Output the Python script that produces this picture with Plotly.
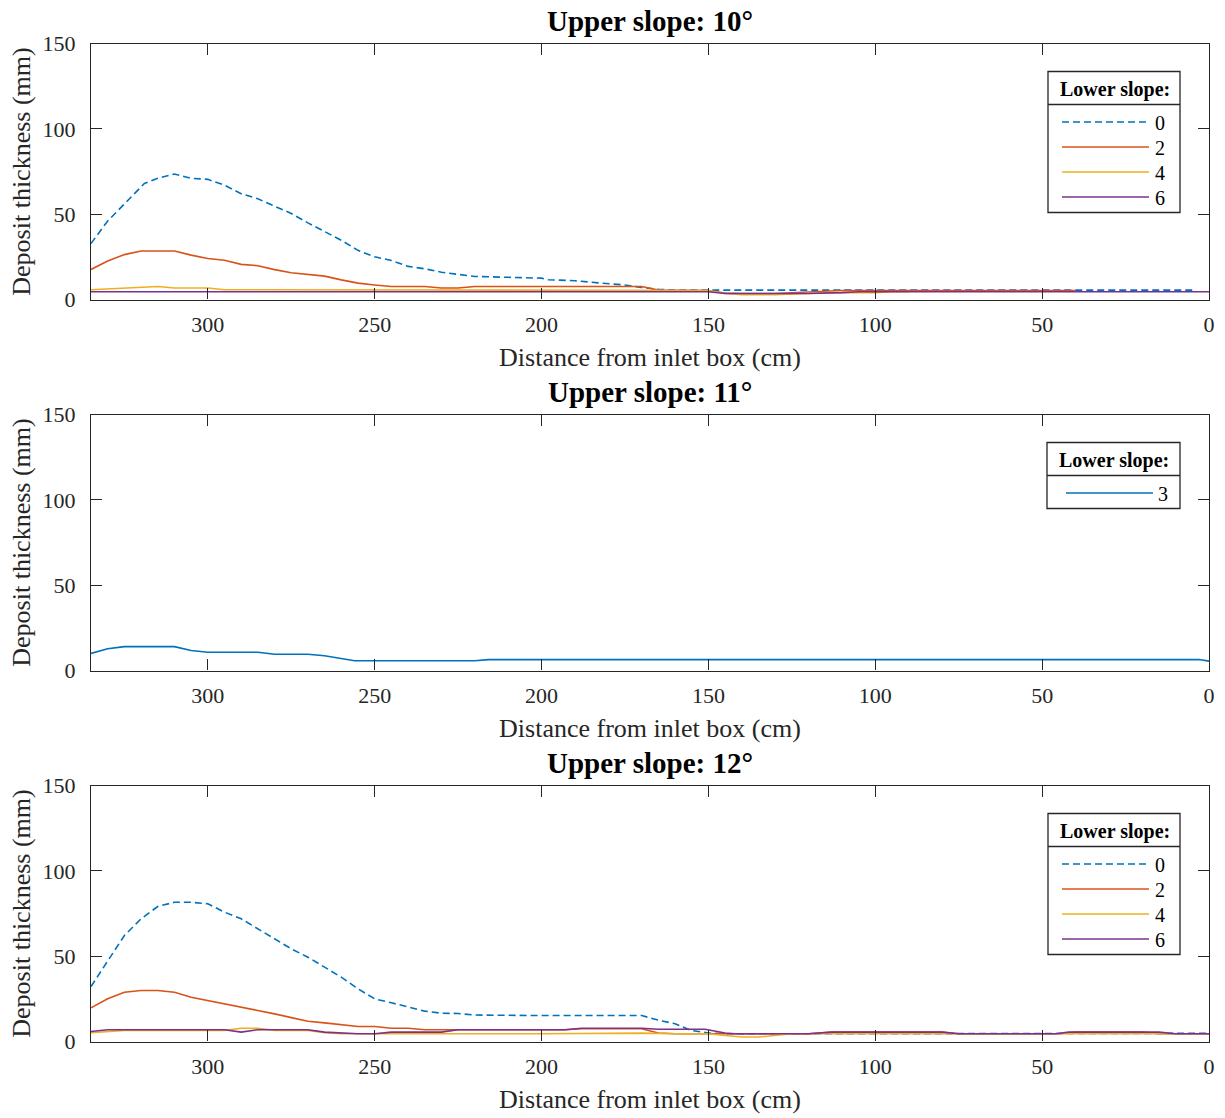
import plotly.graph_objects as go

# ---------------- data ----------------
panel_titles = ["Upper slope: 10°", "Upper slope: 11°", "Upper slope: 12°"]
x_title = "Distance from inlet box (cm)"
y_title = "Deposit thickness (mm)"
legend_title = "Lower slope:"
x_ticks = [0, 50, 100, 150, 200, 250, 300]
y_ticks = [0, 50, 100, 150]

# Upper slope 10
u10_ls0_x = [335, 330, 325, 322, 319, 315, 310, 305, 300, 295, 290, 285, 280, 275, 270, 265, 260, 255, 250,
             245, 240, 235, 230, 225, 220, 210, 200, 198, 190, 182, 175, 170, 165, 160, 150, 100, 50, 5]
u10_ls0_y = [32.8, 46, 56, 62, 68, 71, 73.5, 71, 70.4, 67, 62, 59, 54.7, 50.4, 44.9, 39.6, 34.7, 28.8, 25,
             22.9, 19.4, 18, 16, 14.7, 13.5, 13, 12.5, 11.6, 11, 9.6, 8.5, 7, 6, 5.5, 5.5, 5.5, 5.5, 5.5]
u10_ls2_x = [335, 330, 325, 320, 315, 310, 305, 300, 295, 290, 285, 280, 275, 270, 265, 260, 255, 250, 245,
             240, 235, 230, 225, 220, 210, 200, 190, 180, 170, 165, 160, 150, 145, 140, 130, 125, 120, 110,
             100, 90, 70, 40]
u10_ls2_y = [17.6, 22.5, 26.3, 28.4, 28.4, 28.4, 26, 24, 23, 20.6, 19.8, 17.5, 15.7, 14.8, 13.7, 11.5, 9.6, 8.5,
             7.6, 7.6, 7.6, 6.7, 6.7, 7.6, 7.6, 7.6, 7.6, 7.6, 7.6, 5.5, 5.3, 5.3, 3.8, 3.5, 3.5, 4, 4.5, 5.3,
             5.3, 5.3, 5.3, 5.3]
u10_ls4_x = [335, 325, 315, 310, 300, 295, 250, 200, 160, 150, 145, 140, 130, 125, 115, 100, 95, 90]
u10_ls4_y = [5.7, 6.7, 7.6, 6.7, 6.7, 5.7, 5.7, 5.7, 5.5, 5.3, 3.5, 2.8, 2.8, 3.3, 4, 4, 4.5, 4.5]
u10_ls6_x = [335, 300, 250, 200, 150, 145, 140, 120, 110, 105, 50, 0]
u10_ls6_y = [4.5, 4.5, 4.5, 4.5, 4.5, 3.5, 3.5, 3.5, 4, 4.5, 4.5, 4.5]

# Upper slope 11
u11_ls3_x = [335, 330, 325, 320, 315, 310, 305, 300, 295, 290, 285, 280, 275, 270, 265, 260, 256, 250, 240,
             230, 220, 216, 210, 200, 150, 100, 50, 3, 0]
u11_ls3_y = [10, 12.7, 14, 14, 14, 14, 11.7, 10.7, 10.7, 10.7, 10.7, 9.5, 9.5, 9.5, 8.6, 6.8, 5.7, 5.7, 5.7,
             5.7, 5.7, 6.4, 6.4, 6.4, 6.4, 6.4, 6.4, 6.4, 5.5]

# Upper slope 12
u12_ls0_x = [335, 330, 325, 320, 315, 310, 305, 300, 295, 290, 285, 280, 275, 270, 265, 260, 255, 250, 245,
             240, 235, 230, 225, 220, 210, 200, 190, 180, 170, 165, 160, 155, 150, 145, 140, 100, 50, 0]
u12_ls0_y = [32.2, 47.5, 62.1, 71.9, 79.1, 81.6, 81.6, 80.7, 75.8, 71.9, 66, 60.2, 54.3, 49.4, 43.5, 37.7,
             30.9, 25, 22.7, 20.1, 17.8, 16.6, 16.4, 15.5, 15.2, 15.2, 15.2, 15.2, 15.2, 12.5, 10.4, 6.4, 5,
             4.5, 4.5, 4.8, 4.8, 4.8]
u12_ls2_x = [335, 330, 325, 320, 315, 310, 305, 300, 295, 290, 285, 280, 275, 270, 265, 260, 255, 250, 245,
             240, 235, 220, 200, 193, 188, 170, 165, 160, 150, 140, 120, 113, 80, 75, 45, 40, 20, 15, 0]
u12_ls2_y = [19.7, 25, 28.9, 29.9, 29.9, 28.9, 25.9, 24, 22, 20.1, 18, 16.2, 14, 11.9, 10.9, 9.9, 8.8, 8.8,
             7.8, 7.8, 6.9, 6.9, 6.9, 6.9, 7.5, 7.5, 5, 4.5, 4.5, 4.5, 4.5, 5.5, 5.5, 4.5, 4.5, 5.5, 5.5, 4.5,
             4.5]
u12_ls4_x = [335, 325, 300, 295, 290, 285, 280, 270, 265, 260, 200, 170, 160, 150, 145, 140, 135, 130, 125,
             100, 50, 0]
u12_ls4_y = [5.1, 6.5, 6.5, 6.5, 7.8, 7.8, 6.5, 6.5, 5.1, 4.5, 4.5, 4.9, 4.5, 4.5, 3.5, 2.6, 2.6, 3.5, 4.5,
             4.5, 4.5, 4.5]
u12_ls6_x = [335, 330, 295, 290, 285, 270, 265, 260, 255, 250, 245, 230, 225, 193, 188, 170, 165, 151, 145,
             142, 120, 113, 80, 75, 46, 42, 15, 10, 0]
u12_ls6_y = [5.9, 6.9, 6.9, 5.5, 6.9, 6.9, 5.5, 5, 4.5, 4.5, 5.5, 5.5, 6.9, 6.9, 7.8, 7.8, 7.2, 7.2, 5, 4.5,
             4.5, 5.5, 5.5, 4.5, 4.5, 5.5, 5.5, 4.5, 4.5]

# ---------------- styles ----------------
COL = {"0": "#0072BD", "2": "#D95319", "4": "#EDB120", "6": "#7E2F8E", "3": "#0072BD"}
DASH = {"0": "7px,4px", "2": "solid", "4": "solid", "6": "solid", "3": "solid"}
AX = "#262626"
SERIF = "Liberation Serif, Times New Roman, serif"
W, H = 1225, 1118

panels = [
    [("0", u10_ls0_x, u10_ls0_y), ("2", u10_ls2_x, u10_ls2_y), ("4", u10_ls4_x, u10_ls4_y), ("6", u10_ls6_x, u10_ls6_y)],
    [("3", u11_ls3_x, u11_ls3_y)],
    [("0", u12_ls0_x, u12_ls0_y), ("2", u12_ls2_x, u12_ls2_y), ("4", u12_ls4_x, u12_ls4_y), ("6", u12_ls6_x, u12_ls6_y)],
]

# pixel layout
plot_left, plot_right = 91, 1209
panel_tops = [43.5, 414.5, 785.5]
panel_h = 256


def px(x):
    return x / W


def py(y):
    return 1 - y / H


fig = go.Figure()
layout = dict(
    width=W, height=H, margin=dict(l=0, r=0, t=0, b=0, autoexpand=False),
    paper_bgcolor="white", plot_bgcolor="white", showlegend=False,
    font=dict(family=SERIF, color=AX),
)
shapes = []
annotations = []

for i, series in enumerate(panels):
    sfx = "" if i == 0 else str(i + 1)
    top = panel_tops[i]
    for name, xs, ys in series:
        fig.add_trace(go.Scatter(
            x=xs, y=ys, mode="lines", name=name,
            line=dict(color=COL[name], width=1.6, dash=DASH[name]),
            xaxis="x" + sfx, yaxis="y" + sfx, showlegend=False,
        ))
    layout["xaxis" + sfx] = dict(
        domain=[px(plot_left), px(plot_right)], anchor="y" + sfx, automargin=False,
        range=[335, 0], tickvals=x_ticks, ticks="inside", ticklen=11, tickwidth=1.2,
        tickcolor=AX, showline=True, linecolor=AX, linewidth=1.3, mirror="ticks",
        showgrid=False, zeroline=False, tickfont=dict(size=22, family=SERIF, color=AX),
        ticklabelstandoff=5,
        title=dict(text=x_title, font=dict(size=26, family=SERIF, color=AX), standoff=11),
    )
    layout["yaxis" + sfx] = dict(
        domain=[py(top + panel_h), py(top)], anchor="x" + sfx, automargin=False,
        range=[0, 150], tickvals=y_ticks, ticks="inside", ticklen=11, tickwidth=1.2,
        tickcolor=AX, showline=True, linecolor=AX, linewidth=1.3, mirror="ticks",
        showgrid=False, zeroline=False, tickfont=dict(size=22, family=SERIF, color=AX),
        ticklabelstandoff=10,
        title=dict(text=y_title, font=dict(size=26, family=SERIF, color=AX), standoff=4),
    )
    # panel title
    annotations.append(dict(
        text="<b>" + panel_titles[i] + "</b>", xref="paper", yref="paper",
        x=px((plot_left + plot_right) / 2), y=py(top - 22.5), xanchor="center", yanchor="middle",
        showarrow=False, font=dict(size=29, family=SERIF, color="black"),
    ))
    # legend box (drawn)
    n = len(series)
    if n == 1:
        bx0, bx1, lx0, lx1, tx = 1047, 1180, 1066, 1153, 1169.5
    else:
        bx0, bx1, lx0, lx1, tx = 1048, 1180, 1062, 1149, 1166.5
    btop = top + 28
    bbot = top + 78.5 + 25 * (n - 1) + 15.5
    shapes.append(dict(type="rect", xref="paper", yref="paper",
                       x0=px(bx0), x1=px(bx1), y0=py(bbot), y1=py(btop),
                       line=dict(color=AX, width=1.3), fillcolor="white", layer="above"))
    shapes.append(dict(type="line", xref="paper", yref="paper",
                       x0=px(bx0), x1=px(bx1), y0=py(top + 61), y1=py(top + 61),
                       line=dict(color=AX, width=1.3), layer="above"))
    annotations.append(dict(
        text="<b>" + legend_title + "</b>", xref="paper", yref="paper",
        x=px((bx0 + bx1) / 2 + 0.5), y=py(top + 45.5), xanchor="center", yanchor="middle",
        showarrow=False, font=dict(size=20, family=SERIF, color="black"),
    ))
    for k, (name, xs, ys) in enumerate(series):
        ry = top + 78.5 + 25 * k
        shapes.append(dict(type="line", xref="paper", yref="paper",
                           x0=px(lx0), x1=px(lx1), y0=py(ry), y1=py(ry),
                           line=dict(color=COL[name], width=1.6, dash=DASH[name]), layer="above"))
        annotations.append(dict(
            text=name, xref="paper", yref="paper", x=px(tx), y=py(ry + 1),
            xanchor="right", yanchor="middle", showarrow=False,
            font=dict(size=20, family=SERIF, color="black"),
        ))

layout["shapes"] = shapes
layout["annotations"] = annotations
fig.update_layout(**layout)
fig.write_html("out.html")
